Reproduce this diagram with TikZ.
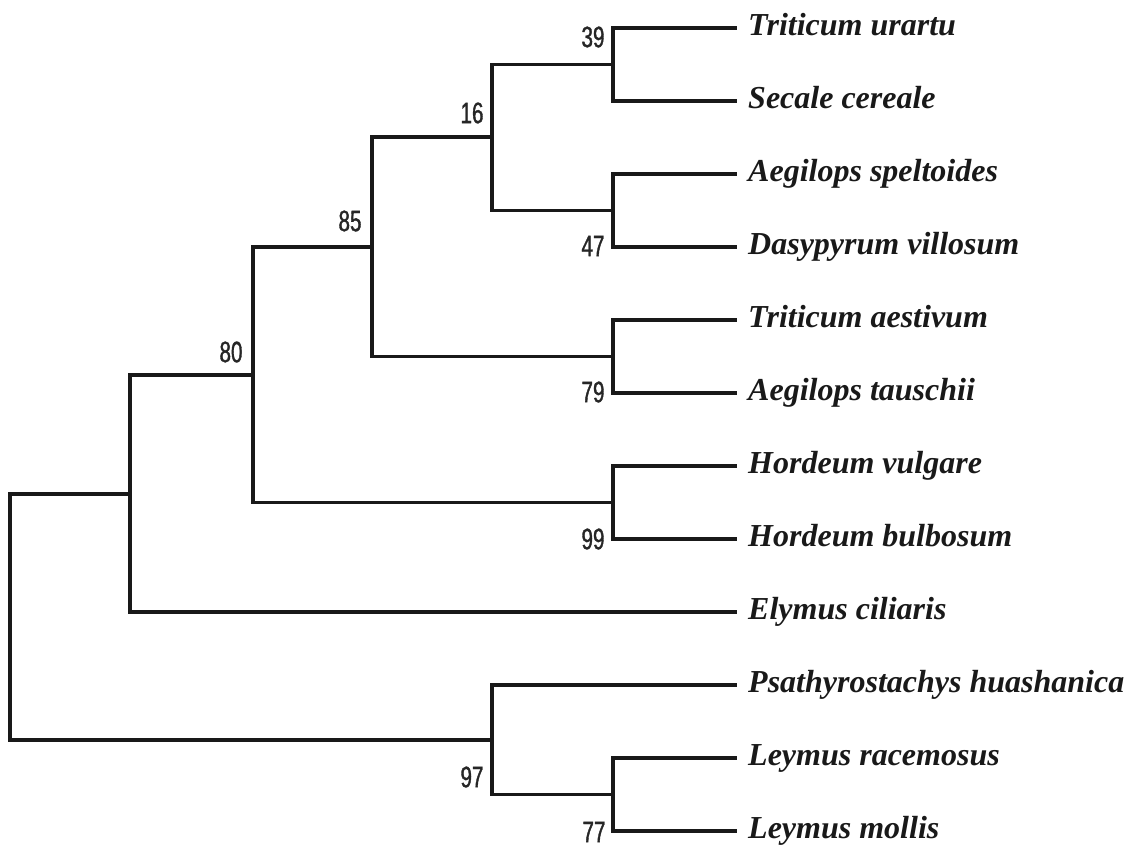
\documentclass[tikz,border=0pt]{standalone}
\usepackage{fontspec}
\setmainfont{Liberation Serif}
\newfontfamily\numfont[FakeStretch=0.70,FakeBold=1.2]{Liberation Sans}
\begin{document}
\begin{tikzpicture}[x=1pt,y=-1pt,
  branch/.style={line width=3.4pt,line join=miter,line cap=rect,black!90},
  taxon/.style={anchor=base west,inner sep=0pt,font=\fontsize{32}{35}\selectfont\bfseries\itshape,text=black!90},
  boot/.style={anchor=center,inner sep=0pt,font=\numfont\fontsize{29.5}{32}\selectfont,text=black!85}]
\useasboundingbox (0,0) rectangle (1135,852);
% leaves
\foreach \i/\y in {1/28,2/101,3/174,4/247,5/320,6/393,7/466,8/539,9/612,10/685,11/758,12/831}
  \coordinate (L\i) at (735,\y);
% internal nodes
\coordinate (n39) at (613,64.5);
\coordinate (n47) at (613,210.5);
\coordinate (n16) at (492,137);
\coordinate (n79) at (613,356.5);
\coordinate (n85) at (372,247);
\coordinate (n99) at (613,502.5);
\coordinate (n80) at (253,375);
\coordinate (nA) at (130,494);
\coordinate (n77) at (613,794.5);
\coordinate (n97) at (492,740);
\coordinate (root) at (10,617);
% branches
\draw[branch] (L1) -| (n39) |- (L2);
\draw[branch] (L3) -| (n47) |- (L4);
\draw[branch] (n39) -| (n16) |- (n47);
\draw[branch] (L5) -| (n79) |- (L6);
\draw[branch] (n16) -| (n85) |- (n79);
\draw[branch] (L7) -| (n99) |- (L8);
\draw[branch] (n85) -| (n80) |- (n99);
\draw[branch] (n80) -| (nA) |- (L9);
\draw[branch] (L11) -| (n77) |- (L12);
\draw[branch] (L10) -| (n97) |- (n77);
\draw[branch] (nA) -| (root) |- (n97);
% taxa
\node[taxon] (t1) at (748,35) {Triticum urartu};
\node[taxon] (t2) at (748,108) {Secale cereale};
\node[taxon] (t3) at (748,181) {Aegilops speltoides};
\node[taxon] (t4) at (748,254) {Dasypyrum villosum};
\node[taxon] (t5) at (748,327) {Triticum aestivum};
\node[taxon] (t6) at (748,400) {Aegilops tauschii};
\node[taxon] (t7) at (748,473) {Hordeum vulgare};
\node[taxon] (t8) at (748,546) {Hordeum bulbosum};
\node[taxon] (t9) at (748,619) {Elymus ciliaris};
\node[taxon] (t10) at (748,692) {Psathyrostachys huashanica};
\node[taxon] (t11) at (748,765) {Leymus racemosus};
\node[taxon] (t12) at (748,838) {Leymus mollis};
% bootstrap values
\node[boot] (b39) at (593,37) {39};
\node[boot] (b16) at (472,113) {16};
\node[boot] (b47) at (593,246) {47};
\node[boot] (b85) at (350,221) {85};
\node[boot] (b79) at (593,392) {79};
\node[boot] (b80) at (231,352) {80};
\node[boot] (b99) at (593,539) {99};
\node[boot] (b97) at (472,777) {97};
\node[boot] (b77) at (594,832) {77};
\end{tikzpicture}
\end{document}
